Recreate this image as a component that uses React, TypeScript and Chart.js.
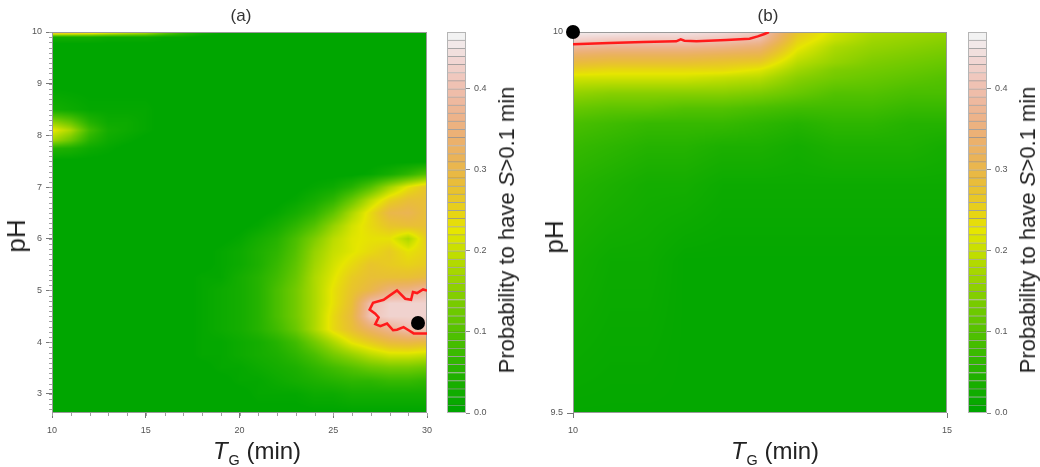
import React, { useEffect, useRef } from "react";
import { Chart, registerables } from "chart.js";

Chart.register(...registerables);

const FONT = '"Liberation Sans", Arial, sans-serif';

// ---------- Panel (a): probability (%) on a TG x pH grid ----------
const tgColsA = [10, 11, 12, 13, 14, 15, 16, 17, 18, 19, 20, 21, 22, 23, 24, 25, 26, 27, 28, 29, 30];
const phRowsA = [10, 9.9, 9.75, 9.5, 9, 8.5, 8.25, 8.1, 7.9, 7.75, 7.5, 7.25, 7, 6.75, 6.5, 6.25, 6, 5.75, 5.5, 5.25, 5, 4.75, 4.5, 4.25, 4, 3.75, 3.5, 3.25, 3, 2.6];
const probA = [
  [34, 33, 31, 28, 25, 22, 14, 7, 3, 1, 0, 0, 0, 0, 0, 0, 0, 0, 0, 0, 0],
  [3, 3, 3, 2, 2, 2, 1, 1, 0, 0, 0, 0, 0, 0, 0, 0, 0, 0, 0, 0, 0],
  [0, 0, 0, 0, 0, 0, 0, 0, 0, 0, 0, 0, 0, 0, 0, 0, 0, 0, 0, 0, 0],
  [0, 0, 0, 0, 0, 0, 0, 0, 0, 0, 0, 0, 0, 0, 0, 0, 0, 0, 0, 0, 0],
  [0, 0, 0, 0, 0, 0, 0, 0, 0, 0, 0, 0, 0, 0, 0, 0, 0, 0, 0, 0, 0],
  [3, 2, 1, 1, 1, 1, 0, 0, 0, 0, 0, 0, 0, 0, 0, 0, 0, 0, 0, 0, 0],
  [16, 12, 5, 2, 2, 1, 0, 0, 0, 0, 0, 0, 0, 0, 0, 0, 0, 0, 0, 0, 0],
  [23, 18, 8, 3, 2, 1, 0, 0, 0, 0, 0, 0, 0, 0, 0, 0, 0, 0, 0, 0, 0],
  [17, 12, 5, 2, 1, 0, 0, 0, 0, 0, 0, 0, 0, 0, 0, 0, 0, 0, 0, 0, 0],
  [5, 4, 2, 1, 0, 0, 0, 0, 0, 0, 0, 0, 0, 0, 0, 0, 0, 0, 0, 0, 0],
  [0, 0, 0, 0, 0, 0, 0, 0, 0, 0, 0, 0, 0, 0, 0, 0, 0, 0, 0, 0, 0],
  [0, 0, 0, 0, 0, 0, 0, 0, 0, 0, 0, 0, 0, 0, 0, 0, 0, 1, 3, 6, 10],
  [0, 0, 0, 0, 0, 0, 0, 0, 0, 0, 0, 0, 0, 0, 1, 2, 5, 10, 17, 23, 27],
  [0, 0, 0, 0, 0, 0, 0, 0, 0, 0, 0, 0, 0, 1, 3, 6, 12, 19, 25, 28, 28],
  [0, 0, 0, 0, 0, 0, 0, 0, 0, 0, 0, 0, 1, 3, 6, 11, 18, 24, 30, 31, 28],
  [0, 0, 0, 0, 0, 0, 0, 0, 0, 0, 0, 1, 3, 6, 10, 16, 21, 24, 27, 28, 28],
  [0, 0, 0, 0, 0, 0, 0, 0, 0, 0, 1, 3, 5, 9, 14, 19, 22, 23, 23, 18, 26],
  [0, 0, 0, 0, 0, 0, 0, 0, 0, 1, 2, 4, 6, 10, 16, 20, 22, 24, 26, 23, 25],
  [0, 0, 0, 0, 0, 0, 0, 0, 0, 1, 2, 4, 7, 11, 17, 21, 24, 27, 26, 25, 26],
  [0, 0, 0, 0, 0, 0, 0, 0, 1, 1, 3, 5, 8, 12, 18, 22, 26, 28, 28, 28, 29],
  [0, 0, 0, 0, 0, 0, 0, 0, 1, 2, 3, 5, 9, 13, 18, 23, 27, 30, 35, 36, 39],
  [0, 0, 0, 0, 0, 0, 0, 0, 1, 2, 3, 5, 9, 13, 18, 23, 28, 40, 43, 43, 43],
  [0, 0, 0, 0, 0, 0, 0, 0, 1, 2, 3, 5, 9, 13, 18, 24, 29, 41, 43, 43, 43],
  [0, 0, 0, 0, 0, 0, 0, 0, 1, 2, 3, 5, 8, 12, 18, 24, 28, 33, 37, 40, 41],
  [0, 0, 0, 0, 0, 0, 0, 0, 1, 1, 2, 3, 5, 8, 13, 18, 23, 26, 29, 30, 29],
  [0, 0, 0, 0, 0, 0, 0, 0, 1, 1, 2, 3, 4, 6, 9, 13, 16, 19, 21, 21, 20],
  [0, 0, 0, 0, 0, 0, 0, 0, 0, 1, 1, 2, 3, 4, 6, 8, 10, 12, 13, 13, 12],
  [0, 0, 0, 0, 0, 0, 0, 0, 0, 0, 1, 1, 2, 3, 4, 5, 6, 6, 7, 7, 6],
  [0, 0, 0, 0, 0, 0, 0, 0, 0, 0, 0, 1, 1, 1, 2, 2, 3, 3, 3, 3, 3],
  [0, 0, 0, 0, 0, 0, 0, 0, 0, 0, 0, 0, 0, 0, 0, 0, 0, 0, 0, 0, 0],
];
// 0.4 probability contour and optimum, panel (a)
const contourTgA = [30, 29.79, 29.47, 29.25, 29.15, 28.84, 28.4, 28.04, 27.69, 27.12, 26.94, 27.24, 27.42, 27.24, 27.51, 27.87, 28.19, 28.4, 28.75, 29.02, 29.29, 30];
const contourPhA = [5.0, 5.02, 4.95, 4.97, 4.82, 4.84, 5.0, 4.91, 4.82, 4.76, 4.63, 4.55, 4.48, 4.35, 4.31, 4.36, 4.23, 4.24, 4.29, 4.23, 4.17, 4.17];
const optimumA = { tg: 29.52, ph: 4.37 };

// ---------- Panel (b): zoom on pH 9.5-10, TG 10-15 ----------
const tgColsB = [10, 10.5, 11, 11.5, 12, 12.5, 13, 13.5, 14, 14.5, 15];
const phRowsB = [10, 9.99, 9.98, 9.97, 9.96, 9.95, 9.94, 9.92, 9.9, 9.88, 9.85, 9.8, 9.7, 9.5];
const probB = [
  [46, 46, 45, 45, 44, 42, 27, 21, 18, 17, 16],
  [43, 42, 42, 42, 41, 39, 25, 20, 17, 16, 15],
  [38, 37, 37, 37, 36, 34, 23, 18, 16, 15, 14],
  [33, 32, 32, 32, 31, 30, 21, 17, 15, 14, 13],
  [29, 28, 28, 28, 27, 26, 19, 16, 14, 13, 12],
  [25, 24, 24, 24, 24, 22, 17, 14, 13, 12, 11],
  [21, 21, 21, 21, 20, 19, 15, 13, 12, 11, 10],
  [16, 15, 15, 15, 15, 14, 12, 10, 10, 9, 9],
  [12, 11, 11, 10, 10, 9, 8, 8, 8, 7, 7],
  [9, 8, 7, 7, 7, 6, 5, 6, 6, 5, 5],
  [7, 6, 5, 5, 4, 4, 3, 4, 4, 4, 3],
  [5, 4, 3, 3, 2, 2, 2, 2, 2, 2, 2],
  [3, 2, 2, 1, 1, 1, 1, 1, 1, 1, 1],
  [1, 1, 1, 1, 1, 1, 1, 1, 1, 1, 1],
];
const contourTgB = [10, 10.49, 10.94, 11.38, 11.44, 11.49, 11.65, 12.05, 12.36, 12.47, 12.56, 12.62];
const contourPhB = [9.984, 9.9855, 9.9868, 9.9877, 9.9903, 9.9886, 9.9877, 9.9895, 9.9912, 9.9942, 9.9974, 10.0];
const optimumB = { tg: 10, ph: 10 };

// ---------- Axis ticks ----------
const xTicksA = [10, 15, 20, 25, 30];
const yTicksA = [3, 4, 5, 6, 7, 8, 9, 10];
const xTicksB = [10, 15];
const yTicksB = [9.5, 10];
const colorbarTicks = [0, 0.1, 0.2, 0.3, 0.4];
const colorbarMax = 0.47;
const bandCount = 47;

// terrain-style palette, one colour per 0.01 band
function hsvToRgb(h: number, s: number, v: number): [number, number, number] {
  const i = Math.floor(h * 6);
  const f = h * 6 - i;
  const p = v * (1 - s);
  const q = v * (1 - f * s);
  const t = v * (1 - (1 - f) * s);
  let r = 0, g = 0, b = 0;
  switch (((i % 6) + 6) % 6) {
    case 0: r = v; g = t; b = p; break;
    case 1: r = q; g = v; b = p; break;
    case 2: r = p; g = v; b = t; break;
    case 3: r = p; g = q; b = v; break;
    case 4: r = t; g = p; b = v; break;
    default: r = v; g = p; b = q; break;
  }
  return [Math.round(r * 255), Math.round(g * 255), Math.round(b * 255)];
}

function bandRgb(i: number): [number, number, number] {
  const k = Math.floor(bandCount / 2);
  if (i < k) {
    const t = i / (k - 1);
    return hsvToRgb(4 / 12 - (2 / 12) * t, 1, 0.65 + 0.25 * t);
  }
  const m = bandCount - k + 1;
  const u = (i - k + 1) / (m - 1);
  return hsvToRgb((2 / 12) * (1 - u), 1 - u, 0.9 + 0.05 * u);
}

function valueRgb(pct: number): [number, number, number] {
  const f = Math.min(bandCount - 1, Math.max(0, pct - 0.5));
  const i0 = Math.floor(f);
  const i1 = Math.min(bandCount - 1, i0 + 1);
  const t = f - i0;
  const a = bandRgb(i0), b = bandRgb(i1);
  return [a[0] + (b[0] - a[0]) * t, a[1] + (b[1] - a[1]) * t, a[2] + (b[2] - a[2]) * t];
}

function locate(arr: number[], v: number): [number, number] {
  const n = arr.length;
  for (let i = 0; i < n - 1; i++) {
    const a = arr[i], b = arr[i + 1];
    if (v >= Math.min(a, b) && v <= Math.max(a, b)) return [i, (v - a) / (b - a)];
  }
  const first = Math.abs(v - arr[0]) < Math.abs(v - arr[n - 1]);
  return first ? [0, 0] : [n - 2, 1];
}

function heatmapPlugin(cols: number[], rows: number[], grid: number[][], minorX: number, minorY: number) {
  return {
    id: "heatmap",
    beforeDatasetsDraw(chart: any) {
      const { ctx, chartArea: a, scales } = chart;
      const xs = scales.x, ys = scales.y;
      const L = Math.round(a.left), T = Math.round(a.top);
      const W = Math.round(a.right) - L, H = Math.round(a.bottom) - T;
      const off = document.createElement("canvas");
      off.width = W;
      off.height = H;
      const octx = off.getContext("2d")!;
      const img = octx.createImageData(W, H);
      const cx: [number, number][] = [];
      for (let i = 0; i < W; i++) cx.push(locate(cols, xs.getValueForPixel(L + i + 0.5)));
      const ry: [number, number][] = [];
      for (let j = 0; j < H; j++) ry.push(locate(rows, ys.getValueForPixel(T + j + 0.5)));
      for (let j = 0; j < H; j++) {
        const [r, u] = ry[j];
        const g0 = grid[r], g1 = grid[r + 1];
        for (let i = 0; i < W; i++) {
          const [c, t] = cx[i];
          const top = g0[c] + (g0[c + 1] - g0[c]) * t;
          const bot = g1[c] + (g1[c + 1] - g1[c]) * t;
          const [R, G, B] = valueRgb(top + (bot - top) * u);
          const k = (j * W + i) * 4;
          img.data[k] = R;
          img.data[k + 1] = G;
          img.data[k + 2] = B;
          img.data[k + 3] = 255;
        }
      }
      octx.putImageData(img, 0, 0);
      ctx.save();
      ctx.drawImage(off, L, T);
      ctx.strokeStyle = "#9a9a9a";
      ctx.lineWidth = 1;
      ctx.strokeRect(L + 0.5, T + 0.5, W - 1, H - 1);
      ctx.restore();
    },
    afterDraw(chart: any) {
      const { ctx, chartArea: a, scales } = chart;
      ctx.save();
      ctx.strokeStyle = "#a0a0a0";
      ctx.lineWidth = 1;
      ctx.beginPath();
      if (minorX > 0) {
        for (let v = scales.x.min; v <= scales.x.max + 1e-9; v += minorX) {
          const px = Math.round(scales.x.getPixelForValue(v)) + 0.5;
          ctx.moveTo(px, a.bottom);
          ctx.lineTo(px, a.bottom + 3);
        }
      }
      if (minorY > 0) {
        const start = Math.ceil(scales.y.min / minorY) * minorY;
        for (let v = start; v <= scales.y.max + 1e-9; v += minorY) {
          const py = Math.round(scales.y.getPixelForValue(v)) + 0.5;
          ctx.moveTo(a.left, py);
          ctx.lineTo(a.left - 3, py);
        }
      }
      ctx.stroke();
      ctx.restore();
    },
  };
}

type PanelProps = {
  cols: number[];
  rows: number[];
  grid: number[][];
  xMin: number;
  xMax: number;
  yMin: number;
  yMax: number;
  xTicks: number[];
  yTicks: number[];
  contourTg: number[];
  contourPh: number[];
  optimum: { tg: number; ph: number };
  yAxisWidth: number;
  minorX: number;
  minorY: number;
  left: number;
};

function HeatPanel(p: PanelProps) {
  const ref = useRef<HTMLCanvasElement>(null);
  useEffect(() => {
    const tickFont = { family: FONT, size: 9 };
    const chart = new Chart(ref.current!, {
      type: "scatter",
      data: {
        datasets: [
          {
            data: [{ x: p.optimum.tg, y: p.optimum.ph }],
            pointRadius: 7,
            pointBackgroundColor: "#000",
            pointBorderWidth: 0,
            clip: false,
          } as any,
          {
            data: p.contourTg.map((tg, i) => ({ x: tg, y: p.contourPh[i] })),
            showLine: true,
            borderColor: "#ff1a1a",
            borderWidth: 2.5,
            pointRadius: 0,
            tension: 0,
          },
        ],
      },
      options: {
        animation: false,
        responsive: false,
        devicePixelRatio: 1,
        layout: { padding: { left: 0, top: 32, right: 13, bottom: 0 } },
        plugins: { legend: { display: false }, tooltip: { enabled: false } },
        scales: {
          x: {
            type: "linear",
            min: p.xMin,
            max: p.xMax,
            afterBuildTicks: (s: any) => { s.ticks = p.xTicks.map((v) => ({ value: v })); },
            afterFit: (s: any) => { s.height = 27; },
            grid: { drawOnChartArea: false, tickLength: 5, tickColor: "#777" },
            border: { display: false },
            ticks: { font: tickFont, color: "#555", padding: 7, maxRotation: 0, autoSkip: false, callback: (v: any) => String(v) },
          },
          y: {
            type: "linear",
            min: p.yMin,
            max: p.yMax,
            afterBuildTicks: (s: any) => { s.ticks = p.yTicks.map((v) => ({ value: v })); },
            afterFit: (s: any) => { s.width = p.yAxisWidth; },
            grid: { drawOnChartArea: false, tickLength: 6, tickColor: "#777" },
            border: { display: false },
            ticks: { font: tickFont, color: "#555", padding: 4, autoSkip: false, callback: (v: any) => String(v) },
          },
        },
      },
      plugins: [heatmapPlugin(p.cols, p.rows, p.grid, p.minorX, p.minorY)],
    });
    return () => chart.destroy();
  }, []);
  return (
    <canvas
      ref={ref}
      width={440}
      height={440}
      style={{ position: "absolute", left: p.left, top: 0, width: 440, height: 440 }}
    />
  );
}

const colorbarLevels = Array.from({ length: bandCount + 1 }, (_, i) => i / 100);

function Colorbar({ left }: { left: number }) {
  const ref = useRef<HTMLCanvasElement>(null);
  useEffect(() => {
    const chart = new Chart(ref.current!, {
      type: "bar",
      data: {
        labels: [""],
        datasets: colorbarLevels.slice(0, -1).map((lo, i) => {
          const [r, g, b] = bandRgb(i);
          return {
            data: [[lo, colorbarLevels[i + 1]]],
            backgroundColor: `rgb(${r},${g},${b})`,
            borderColor: "rgba(60,60,60,0.45)",
            borderWidth: { top: 1, bottom: 0, left: 0, right: 0 },
            borderSkipped: false,
            grouped: false,
            barPercentage: 1,
            categoryPercentage: 1,
          } as any;
        }),
      },
      options: {
        animation: false,
        responsive: false,
        devicePixelRatio: 1,
        layout: { padding: { left: 7, top: 32, right: 0, bottom: 27 } },
        plugins: { legend: { display: false }, tooltip: { enabled: false } },
        scales: {
          x: { display: false },
          y: {
            position: "right",
            min: 0,
            max: colorbarMax,
            afterBuildTicks: (s: any) => { s.ticks = colorbarTicks.map((v) => ({ value: v })); },
            afterFit: (s: any) => { s.width = 34; },
            grid: { drawOnChartArea: false, tickLength: 4, tickColor: "#888" },
            border: { display: false },
            ticks: { font: { family: FONT, size: 9 }, color: "#555", padding: 4, callback: (v: any) => Number(v).toFixed(1) },
          },
        },
      },
      plugins: [
        {
          id: "cbFrame",
          afterDatasetsDraw(c: any) {
            const a = c.chartArea;
            c.ctx.save();
            c.ctx.strokeStyle = "#b5b5b5";
            c.ctx.lineWidth = 1;
            c.ctx.strokeRect(Math.round(a.left) + 0.5, Math.round(a.top) + 0.5, Math.round(a.right - a.left) - 1, Math.round(a.bottom - a.top) - 1);
            c.ctx.restore();
          },
        },
      ],
    });
    return () => chart.destroy();
  }, []);
  return (
    <canvas
      ref={ref}
      width={60}
      height={440}
      style={{ position: "absolute", left, top: 0, width: 60, height: 440 }}
    />
  );
}

function Label({ x, y, size, rotate, color, children }: any) {
  return (
    <div
      style={{
        position: "absolute",
        left: x,
        top: y,
        transform: `translate(-50%, -50%)${rotate ? " rotate(-90deg)" : ""}`,
        fontFamily: FONT,
        fontSize: size,
        color: color || "#222",
        whiteSpace: "nowrap",
        lineHeight: 1,
      }}
    >
      {children}
    </div>
  );
}

function TgTitle() {
  return (
    <span>
      <i>T</i>
      <span style={{ fontSize: "0.6em", position: "relative", top: "0.45em", marginLeft: 1 }}>G</span> (min)
    </span>
  );
}

function CbTitle() {
  return (
    <span>
      Probability to have <i>S</i>&gt;0.1 min
    </span>
  );
}

export default function App() {
  return (
    <div style={{ position: "absolute", left: 0, top: 0, width: 1040, height: 467, background: "#fff", overflow: "hidden" }}>
      <HeatPanel
        cols={tgColsA}
        rows={phRowsA}
        grid={probA}
        xMin={10}
        xMax={30}
        yMin={2.63}
        yMax={10}
        xTicks={xTicksA}
        yTicks={yTicksA}
        contourTg={contourTgA}
        contourPh={contourPhA}
        optimum={optimumA}
        yAxisWidth={52}
        minorX={1}
        minorY={0.1}
        left={0}
      />
      <Colorbar left={440} />
      <HeatPanel
        cols={tgColsB}
        rows={phRowsB}
        grid={probB}
        xMin={10}
        xMax={15}
        yMin={9.5}
        yMax={10}
        xTicks={xTicksB}
        yTicks={yTicksB}
        contourTg={contourTgB}
        contourPh={contourPhB}
        optimum={optimumB}
        yAxisWidth={53}
        minorX={0}
        minorY={0}
        left={520}
      />
      <Colorbar left={961} />
      <Label x={241} y={15} size={17} color="#333">(a)</Label>
      <Label x={768} y={15} size={17} color="#333">(b)</Label>
      <Label x={16} y={236} size={26} rotate>pH</Label>
      <Label x={554} y={237} size={26} rotate>pH</Label>
      <Label x={257} y={451} size={24}><TgTitle /></Label>
      <Label x={775} y={451} size={24}><TgTitle /></Label>
      <Label x={507} y={230} size={22} rotate><CbTitle /></Label>
      <Label x={1028} y={230} size={22} rotate><CbTitle /></Label>
    </div>
  );
}
